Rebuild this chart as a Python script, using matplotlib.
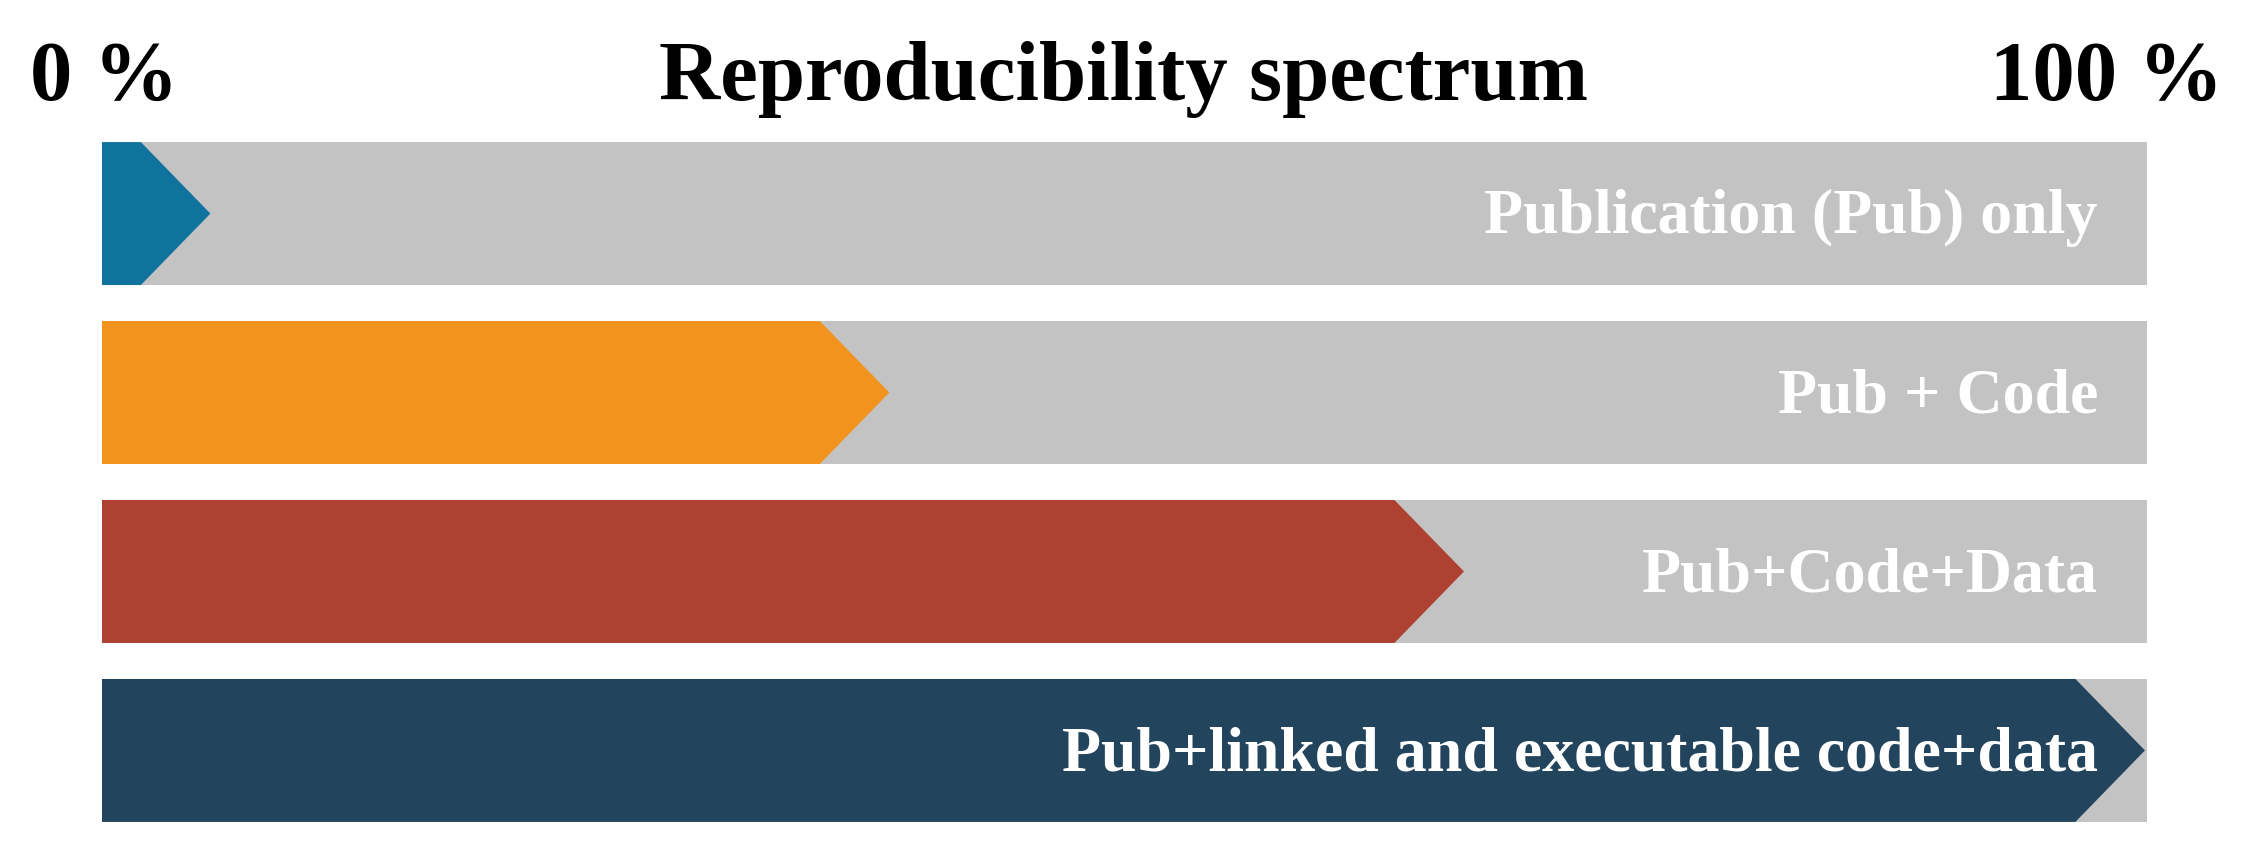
import matplotlib.pyplot as plt
from matplotlib.patches import Polygon

# data
labels = ['Publication (Pub) only', 'Pub + Code', 'Pub+Code+Data',
          'Pub+linked and executable code+data']
levels = [5.3, 38.5, 66.6, 99.9]   # % of the spectrum reached (arrow tip)
colors = ['#10739E', '#F2931E', '#AE4132', '#23445D']
head = 3.4  # arrow head length, in % units

W, H = 2251, 855
fig = plt.figure(figsize=(W / 100, H / 100), dpi=100)
plt.rcParams['font.family'] = ['Liberation Serif', 'DejaVu Serif']

# axes placed so x=0..100 matches the grey bars
ax = fig.add_axes([102 / W, 1 - 822 / H, (2147 - 102) / W, (822 - 142) / H])
ax.set_xlim(0, 100)
ax.set_ylim(3.4, -0.4)
ax.axis('off')

bar_h = 143 / 179
ys = list(range(len(labels)))
ax.barh(ys, [100] * len(ys), height=bar_h, left=0, color='#C3C3C3')

for y, v, c, lab in zip(ys, levels, colors, labels):
    pts = [(0, y - bar_h / 2), (v - head, y - bar_h / 2), (v, y),
           (v - head, y + bar_h / 2), (0, y + bar_h / 2)]
    ax.add_patch(Polygon(pts, closed=True, facecolor=c, edgecolor='none'))
    ax.text(97.6, y + 0.11, lab, ha='right', va='baseline', color='white',
            fontsize=46, fontweight='bold')

ty = 1 - 100 / H
fig.text(30 / W, ty, '0 %', ha='left', va='baseline', fontsize=61, fontweight='bold')
fig.text(0.499, ty, 'Reproducibility spectrum', ha='center', va='baseline',
         fontsize=61, fontweight='bold')
fig.text(2223 / W, ty, '100 %', ha='right', va='baseline', fontsize=61, fontweight='bold')

fig.savefig('out.png', dpi=100, facecolor='white')
